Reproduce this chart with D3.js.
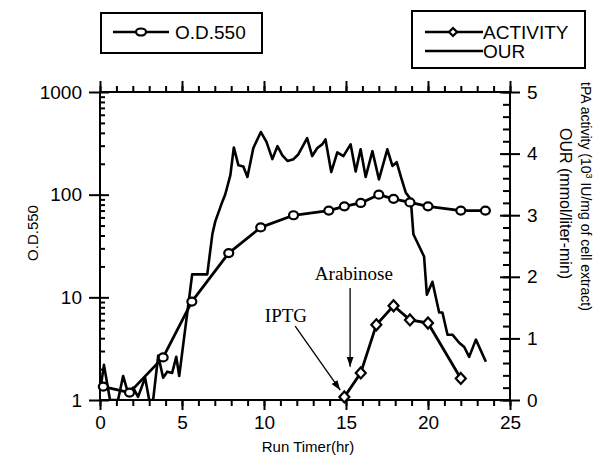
<!DOCTYPE html>
<html>
<head>
<meta charset="utf-8">
<script src="https://cdn.jsdelivr.net/npm/d3@7"></script>
<style>
  body { margin: 0; background: #fff; }
  svg { display: block; }
  .axis path, .axis line { stroke: #000; stroke-width: 2; }
  .axis text { font-family: "Liberation Sans", Arial, sans-serif; font-size: 19px; fill: #000; }
</style>
</head>
<body>
<div id="chart"></div>
<script>
// Run time (hr) and O.D.550 (left, log scale)
var odTime = [0.2, 1.8, 3.85, 5.6, 7.85, 9.8, 11.8, 13.95, 14.9, 15.9, 17.0, 17.9, 18.9, 20.0, 22.0, 23.5];
var odValue = [1.35, 1.18, 2.6, 9.1, 27, 48, 63, 70, 77, 83, 100, 91, 84, 77, 70, 70];

// tPA activity (right axis)
var actTime = [14.9, 15.9, 16.85, 17.9, 18.9, 20.0, 22.0];
var actValue = [0.05, 0.44, 1.22, 1.53, 1.30, 1.25, 0.35];

// OUR (right axis)
var ourTime = [0.06, 0.24, 0.61, 1.10, 1.41, 1.71, 2.02, 2.32, 2.75, 3.0, 3.24, 3.55, 3.85, 4.10, 4.40, 4.65, 4.83,
  5.62, 6.54, 6.85, 7.03, 7.46, 7.64, 7.95, 8.16, 8.44, 8.74, 8.99, 9.35, 9.81, 10.15, 10.51, 10.82, 11.12, 11.43,
  11.80, 12.10, 12.63, 12.94, 13.25, 13.55, 13.75, 14.10, 14.47, 14.84, 15.28, 15.59, 15.89, 16.20, 16.61, 17.01,
  17.52, 17.83, 18.09, 18.34, 18.64, 18.95, 19.11, 19.76, 19.93, 20.27, 20.68, 20.88, 21.19, 21.49, 21.90, 22.21,
  22.51, 22.92, 23.53];
var ourValue = [0.24, 0.57, 0, 0, 0.39, 0.11, 0.20, 0.05, 0.36, 0, 0, 0.72, 0.36, 0.46, 0.44, 0.70, 0.39,
  2.04, 2.04, 2.69, 2.90, 3.22, 3.34, 3.65, 4.10, 3.81, 3.79, 3.62, 4.09, 4.35, 4.19, 3.91, 4.12, 3.97, 3.88,
  3.91, 3.99, 4.25, 3.96, 4.09, 4.15, 4.23, 3.70, 4.02, 3.96, 4.15, 3.71, 4.07, 3.62, 4.04, 3.58,
  4.07, 3.80, 3.86, 3.63, 3.37, 3.26, 2.69, 2.33, 1.71, 1.92, 1.42, 1.42, 1.06, 1.06, 0.93, 0.86,
  0.70, 0.98, 0.62];

// Tick labels
var xTicks = [0, 5, 10, 15, 20, 25];
var leftTicks = [1, 10, 100, 1000];
var rightTicks = [0, 1, 2, 3, 4, 5];

var svgWidth = 596;
var svgHeight = 459;
var margin = { top: 92, right: 86, bottom: 59, left: 100 };
var width = svgWidth - margin.left - margin.right;
var height = svgHeight - margin.top - margin.bottom;

var svg = d3.select("#chart")
  .append("svg")
  .attr("width", svgWidth)
  .attr("height", svgHeight);

var defs = svg.append("defs");
defs.append("marker")
  .attr("id", "arrow")
  .attr("viewBox", "0 0 10 10")
  .attr("refX", 10)
  .attr("refY", 5)
  .attr("markerWidth", 10)
  .attr("markerHeight", 10)
  .attr("markerUnits", "userSpaceOnUse")
  .attr("orient", "auto")
  .append("path")
  .attr("d", "M0,1.5 L10,5 L0,8.5 Z")
  .attr("fill", "#000");

defs.append("clipPath")
  .attr("id", "plotClip")
  .append("rect")
  .attr("x", 0).attr("y", -2)
  .attr("width", width).attr("height", height + 2);

var chartGroup = svg.append("g")
  .attr("transform", `translate(${margin.left}, ${margin.top})`);

// Scales
var xScale = d3.scaleLinear().domain([0, 25]).range([0, width]);
var yLeft = d3.scaleLog().domain([1, 1000]).range([height, 0]);
var yRight = d3.scaleLinear().domain([0, 5]).range([height, 0]);

// Bottom axis: minor ticks every hour, major every 5
chartGroup.append("g")
  .attr("class", "axis")
  .attr("transform", `translate(0, ${height})`)
  .call(d3.axisBottom(xScale).tickValues(d3.range(0, 26)).tickSize(6).tickFormat(""))
  .call(g => g.select(".domain").remove());

chartGroup.append("g")
  .attr("class", "axis")
  .attr("transform", `translate(0, ${height})`)
  .call(d3.axisBottom(xScale).tickValues(xTicks).tickSize(10).tickPadding(6).tickFormat(d3.format("d")))
  .call(g => g.select(".domain").attr("d", `M0,0H${width}`));

// Top axis (mirror, no labels)
chartGroup.append("g")
  .attr("class", "axis")
  .call(d3.axisTop(xScale).tickValues(d3.range(0, 26)).tickSize(6).tickFormat(""))
  .call(g => g.select(".domain").attr("d", `M0,0H${width}`));

chartGroup.append("g")
  .attr("class", "axis")
  .call(d3.axisTop(xScale).tickValues(xTicks).tickSize(11).tickFormat(""))
  .call(g => g.select(".domain").remove());

// Left log axis
var leftMinor = [];
leftTicks.slice(0, 3).forEach(function(d) {
  for (var k = 2; k <= 9; k++) leftMinor.push(d * k);
});

chartGroup.append("g")
  .attr("class", "axis")
  .call(d3.axisLeft(yLeft).tickValues(leftMinor).tickSize(-5).tickFormat(""))
  .call(g => g.select(".domain").remove());

chartGroup.append("g")
  .attr("class", "axis")
  .call(d3.axisLeft(yLeft).tickValues(leftTicks).tickSize(11).tickPadding(7).tickFormat(d3.format("d")))
  .call(g => g.select(".domain").attr("d", `M0,0V${height}`))
  .call(g => g.selectAll(".tick line").attr("x1", 9));

// Right axis
chartGroup.append("g")
  .attr("class", "axis")
  .attr("transform", `translate(${width}, 0)`)
  .call(d3.axisRight(yRight).tickValues(d3.range(0, 26).map(d => d / 5)).tickSize(-7).tickFormat(""))
  .call(g => g.select(".domain").remove());

chartGroup.append("g")
  .attr("class", "axis")
  .attr("transform", `translate(${width}, 0)`)
  .call(d3.axisRight(yRight).tickValues(rightTicks).tickSize(10).tickPadding(7).tickFormat(d3.format("d")))
  .call(g => g.select(".domain").attr("d", `M0,0V${height}`))
  .call(g => g.selectAll(".tick line").attr("x1", -10));

// Data lines
var plot = chartGroup.append("g").attr("clip-path", "url(#plotClip)");

var ourLine = d3.line()
  .x((d, i) => xScale(ourTime[i]))
  .y(d => yRight(d));

plot.append("path")
  .datum(ourValue)
  .attr("d", ourLine)
  .attr("fill", "none")
  .attr("stroke", "#000")
  .attr("stroke-width", 2.6)
  .attr("stroke-linejoin", "round");

var odLine = d3.line()
  .x((d, i) => xScale(odTime[i]))
  .y(d => yLeft(d));

plot.append("path")
  .datum(odValue)
  .attr("d", odLine)
  .attr("fill", "none")
  .attr("stroke", "#000")
  .attr("stroke-width", 2.8)
  .attr("stroke-linejoin", "round");

var actLine = d3.line()
  .x((d, i) => xScale(actTime[i]))
  .y(d => yRight(d));

plot.append("path")
  .datum(actValue)
  .attr("d", actLine)
  .attr("fill", "none")
  .attr("stroke", "#000")
  .attr("stroke-width", 2.8)
  .attr("stroke-linejoin", "round");

// O.D. circles
chartGroup.selectAll(".odPoint")
  .data(odValue)
  .enter()
  .append("ellipse")
  .attr("class", "odPoint")
  .attr("cx", (d, i) => xScale(odTime[i]))
  .attr("cy", d => yLeft(d))
  .attr("rx", 4.5)
  .attr("ry", 4)
  .attr("fill", "#fff")
  .attr("stroke", "#000")
  .attr("stroke-width", 2.2);

// Activity diamonds
var diamond = "M0,-5.5 L5,0 L0,5.5 L-5,0 Z";
chartGroup.selectAll(".actPoint")
  .data(actValue)
  .enter()
  .append("path")
  .attr("class", "actPoint")
  .attr("d", diamond)
  .attr("transform", (d, i) => `translate(${xScale(actTime[i])}, ${yRight(d)})`)
  .attr("fill", "#fff")
  .attr("stroke", "#000")
  .attr("stroke-width", 2.2);

// Annotations (IPTG / Arabinose)
var serif = "'Liberation Serif', 'Times New Roman', serif";
chartGroup.append("text")
  .attr("x", xScale(10.05))
  .attr("y", yRight(1.27))
  .style("font-family", serif)
  .style("font-size", "19px")
  .text("IPTG");

chartGroup.append("line")
  .attr("x1", xScale(11.9)).attr("y1", yRight(1.2))
  .attr("x2", xScale(14.65)).attr("y2", yRight(0.16))
  .attr("stroke", "#000")
  .attr("stroke-width", 1.3)
  .attr("marker-end", "url(#arrow)");

chartGroup.append("text")
  .attr("x", xScale(13.1))
  .attr("y", yRight(1.95))
  .style("font-family", serif)
  .style("font-size", "19px")
  .text("Arabinose");

chartGroup.append("line")
  .attr("x1", xScale(15.25)).attr("y1", yRight(1.82))
  .attr("x2", xScale(15.25)).attr("y2", yRight(0.54))
  .attr("stroke", "#000")
  .attr("stroke-width", 1.3)
  .attr("marker-end", "url(#arrow)");

// Axis titles
var sans = "'Liberation Sans', Arial, sans-serif";
svg.append("text")
  .attr("transform", `translate(${margin.left + width / 2 + 3}, 452)`)
  .style("font-family", sans)
  .style("font-size", "15px")
  .style("text-anchor", "middle")
  .text("Run Timer(hr)");

svg.append("text")
  .attr("transform", "translate(38, 233) rotate(-90)")
  .style("font-family", sans)
  .style("font-size", "15px")
  .style("text-anchor", "middle")
  .text("O.D.550");

var rightTitle = svg.append("text")
  .attr("transform", "translate(581, 82) rotate(90)")
  .style("font-family", sans)
  .style("font-size", "14px");
rightTitle.append("tspan").text("tPA activity (10");
rightTitle.append("tspan").attr("dy", -5).style("font-size", "9px").text("3");
rightTitle.append("tspan").attr("dy", 5).text(" IU/mg of cell extract)");

svg.append("text")
  .attr("transform", "translate(560, 128) rotate(90)")
  .style("font-family", sans)
  .style("font-size", "16px")
  .text("OUR (mmol/liter-min)");

// Legends
var legend1 = svg.append("g");
legend1.append("rect")
  .attr("x", 101).attr("y", 13)
  .attr("width", 161).attr("height", 40)
  .attr("fill", "none").attr("stroke", "#000").attr("stroke-width", 2);
legend1.append("line")
  .attr("x1", 113).attr("x2", 169).attr("y1", 32).attr("y2", 32)
  .attr("stroke", "#000").attr("stroke-width", 2.4);
legend1.append("ellipse")
  .attr("cx", 141).attr("cy", 32).attr("rx", 5).attr("ry", 3.5)
  .attr("fill", "#fff").attr("stroke", "#000").attr("stroke-width", 2.2);
legend1.append("text")
  .attr("x", 175).attr("y", 39)
  .style("font-family", sans).style("font-size", "19px")
  .text("O.D.550");

var legend2 = svg.append("g");
legend2.append("rect")
  .attr("x", 412).attr("y", 11)
  .attr("width", 173).attr("height", 57)
  .attr("fill", "none").attr("stroke", "#000").attr("stroke-width", 2);
legend2.append("line")
  .attr("x1", 425).attr("x2", 483).attr("y1", 32).attr("y2", 32)
  .attr("stroke", "#000").attr("stroke-width", 2.4);
legend2.append("path")
  .attr("d", "M0,-4 L4,0 L0,4 L-4,0 Z")
  .attr("transform", "translate(453, 32)")
  .attr("fill", "#fff").attr("stroke", "#000").attr("stroke-width", 2.2);
legend2.append("text")
  .attr("x", 483).attr("y", 39)
  .style("font-family", sans).style("font-size", "19px")
  .text("ACTIVITY");
legend2.append("line")
  .attr("x1", 425).attr("x2", 483).attr("y1", 51).attr("y2", 51)
  .attr("stroke", "#000").attr("stroke-width", 2.4);
legend2.append("text")
  .attr("x", 483).attr("y", 58)
  .style("font-family", sans).style("font-size", "19px")
  .text("OUR");
</script>
</body>
</html>
